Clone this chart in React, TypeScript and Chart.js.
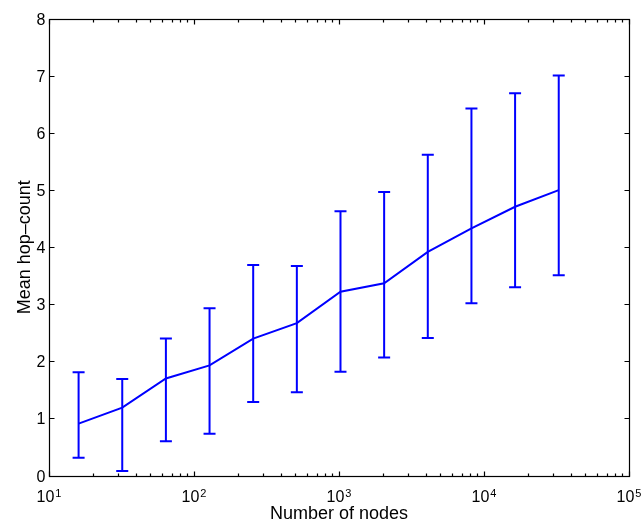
import React, { useEffect, useRef } from "react";
import { Chart, registerables } from "chart.js";

Chart.register(...registerables);

const nodeCounts = [16, 32, 64, 128, 256, 512, 1024, 2048, 4096, 8192, 16384, 32768];
const meanHops = [0.91, 1.19, 1.7, 1.93, 2.4, 2.67, 3.22, 3.37, 3.92, 4.33, 4.71, 5.0];
const upperHops = [1.81, 1.69, 2.4, 2.93, 3.69, 3.67, 4.63, 4.97, 5.62, 6.43, 6.7, 7.01];
const lowerHops = [0.31, 0.08, 0.6, 0.73, 1.29, 1.46, 1.82, 2.07, 2.41, 3.02, 3.3, 3.51];
const yTickValues = [0, 1, 2, 3, 4, 5, 6, 7, 8];
const xDecadeExponents = [1, 2, 3, 4, 5];

const xTitle = "Number of nodes";
const yTitle = "Mean hop\u2013count";

const FONT = '"Liberation Sans", Arial, Helvetica, sans-serif';
const BLUE = "rgb(0,0,255)";

const matlabPlugin = {
  id: "matlabAxes",
  afterDatasetsDraw(chart: any) {
    const ctx = chart.ctx;
    const xs = chart.scales.x;
    const ys = chart.scales.y;
    ctx.save();
    ctx.strokeStyle = BLUE;
    ctx.lineWidth = 2;
    for (let i = 0; i < nodeCounts.length; i++) {
      const px = xs.getPixelForValue(nodeCounts[i]);
      const pt = ys.getPixelForValue(upperHops[i]);
      const pb = ys.getPixelForValue(lowerHops[i]);
      ctx.beginPath();
      ctx.moveTo(px, pt);
      ctx.lineTo(px, pb);
      ctx.moveTo(px - 6, pt);
      ctx.lineTo(px + 6, pt);
      ctx.moveTo(px - 6, pb);
      ctx.lineTo(px + 6, pb);
      ctx.stroke();
    }
    ctx.restore();
  },
  afterDraw(chart: any) {
    const ctx = chart.ctx;
    const xs = chart.scales.x;
    const ys = chart.scales.y;
    const a = chart.chartArea;
    const L = Math.round(a.left) + 0.5;
    const R = Math.round(a.right) + 0.5;
    const T = Math.round(a.top) + 0.5;
    const B = Math.round(a.bottom) + 0.5;
    ctx.save();
    ctx.strokeStyle = "#000";
    ctx.fillStyle = "#000";
    ctx.lineWidth = 1.2;
    ctx.strokeRect(L, T, R - L, B - T);

    // y ticks and labels
    ctx.font = `16px ${FONT}`;
    ctx.textAlign = "right";
    ctx.textBaseline = "middle";
    for (const v of yTickValues) {
      const py = Math.round(ys.getPixelForValue(v)) + 0.5;
      ctx.beginPath();
      ctx.moveTo(L, py);
      ctx.lineTo(L + 5, py);
      ctx.moveTo(R, py);
      ctx.lineTo(R - 5, py);
      ctx.stroke();
      ctx.fillText(String(v), L - 4, py + 1);
    }

    // x ticks (log, with minor)
    for (let d = 1; d <= 5; d++) {
      const maxM = d === 5 ? 1 : 9;
      for (let m = 1; m <= maxM; m++) {
        const v = m * Math.pow(10, d);
        const px = Math.round(xs.getPixelForValue(v)) + 0.5;
        const len = m === 1 ? 5 : 3;
        ctx.beginPath();
        ctx.moveTo(px, B);
        ctx.lineTo(px, B - len);
        ctx.moveTo(px, T);
        ctx.lineTo(px, T + len);
        ctx.stroke();
      }
    }

    // x labels with superscripts
    ctx.textAlign = "left";
    ctx.textBaseline = "alphabetic";
    for (const e of xDecadeExponents) {
      const px = xs.getPixelForValue(Math.pow(10, e));
      ctx.font = `16px ${FONT}`;
      const w1 = ctx.measureText("10").width;
      ctx.font = `11px ${FONT}`;
      const w2 = ctx.measureText(String(e)).width;
      const start = px - (w1 + w2 + 1) / 2;
      ctx.font = `16px ${FONT}`;
      ctx.fillText("10", start, 502);
      ctx.font = `11px ${FONT}`;
      ctx.fillText(String(e), start + w1 + 1, 497);
    }

    // titles
    ctx.font = `18px ${FONT}`;
    ctx.textAlign = "center";
    ctx.fillText(xTitle, (a.left + a.right) / 2, 519);
    ctx.translate(30, (a.top + a.bottom) / 2);
    ctx.rotate(-Math.PI / 2);
    ctx.fillText(yTitle, 0, 0);
    ctx.restore();
  },
};

export default function App() {
  const ref = useRef<HTMLCanvasElement>(null);
  useEffect(() => {
    if (!ref.current) return;
    const chart = new Chart(ref.current, {
      type: "line",
      data: {
        datasets: [
          {
            data: nodeCounts.map((n, i) => ({ x: n, y: meanHops[i] })),
            borderColor: BLUE,
            borderWidth: 2,
            pointRadius: 0,
            tension: 0,
            fill: false,
          },
        ],
      },
      options: {
        responsive: false,
        animation: false,
        layout: { padding: { left: 49, right: 12, top: 19, bottom: 48.5 } },
        plugins: { legend: { display: false }, tooltip: { enabled: false } },
        scales: {
          x: { type: "logarithmic", min: 10, max: 100000, display: false },
          y: { type: "linear", min: 0, max: 8, display: false },
        },
      },
      plugins: [matlabPlugin],
    });
    return () => chart.destroy();
  }, []);
  return (
    <div style={{ position: "absolute", left: 0, top: 0, width: 641, height: 524, background: "#fff" }}>
      <canvas ref={ref} width={641} height={524} style={{ display: "block" }} />
    </div>
  );
}
